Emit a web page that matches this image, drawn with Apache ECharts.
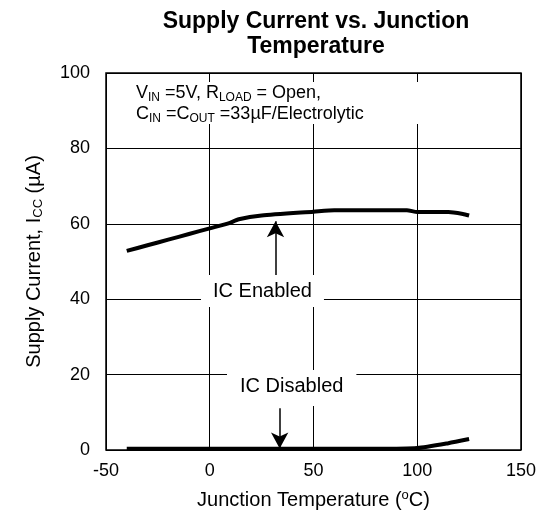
<!DOCTYPE html>
<html>
<head>
<meta charset="utf-8">
<script src="https://cdn.jsdelivr.net/npm/echarts@6/dist/echarts.min.js"></script>
<style>
  html, body { margin: 0; padding: 0; background: #fff; }
  #chart { width: 539px; height: 517px; }
</style>
</head>
<body>
<div id="chart"></div>
<script>
  // values
  var xTicks = [-50, 0, 50, 100, 150]
  var yTicks = [0, 20, 40, 60, 80, 100]
  var enabledTemp = [-40, -30, -20, -10, 0, 9, 14, 25, 50, 60, 95, 100, 115, 122, 125]
  var enabledCur = [52.8, 54.3, 55.8, 57.3, 58.8, 60.1, 61.2, 62.2, 63.2, 63.6, 63.6, 63.1, 63.1, 62.6, 62.2]
  var disabledTemp = [-40, 80, 100, 115, 125]
  var disabledCur = [0.3, 0.3, 0.5, 1.8, 2.9]
  // annotation arrows [x, yFrom, yTo]
  var enabledArrow = [31.7, 46.4, 60.7]
  var disabledArrow = [33.7, 11.1, 0.4]

  function pairs(xs, ys) {
    return xs.map(function (x, i) { return [x, ys[i]] })
  }

  var font = '"Liberation Sans", Arial, sans-serif'
  var chart = echarts.init(document.getElementById('chart'))

  chart.setOption({
    animation: false,
    textStyle: { fontFamily: font, color: '#000' },
    title: {
      text: 'Supply Current vs. Junction\nTemperature',
      left: 311,
      top: 4,
      textAlign: 'center',
      textStyle: { fontFamily: font, fontSize: 23, fontWeight: 'bold', lineHeight: 25, color: '#000' }
    },
    grid: {
      left: 106,
      right: 17,
      top: 73,
      bottom: 67,
      show: true,
      borderColor: '#000',
      borderWidth: 1.5
    },
    xAxis: {
      type: 'value',
      min: xTicks[0],
      max: xTicks[xTicks.length - 1],
      interval: 50,
      axisLine: { show: false },
      axisTick: { show: false },
      axisLabel: { fontSize: 18, color: '#000', margin: 12, fontFamily: font },
      splitLine: { lineStyle: { color: '#000', width: 1 } },
      name: 'Junction Temperature ({sup|o}C)',
      nameLocation: 'middle',
      nameGap: 39,
      nameTextStyle: {
        fontSize: 20, color: '#000', fontFamily: font,
        rich: { sup: { fontSize: 13, fontFamily: font, padding: [0, 0, 9, 0] } }
      }
    },
    yAxis: {
      type: 'value',
      min: yTicks[0],
      max: yTicks[yTicks.length - 1],
      interval: 20,
      axisLine: { show: false },
      axisTick: { show: false },
      axisLabel: { fontSize: 18, color: '#000', margin: 16, fontFamily: font },
      splitLine: { lineStyle: { color: '#000', width: 1 } },
      name: 'Supply Current, I{sub|CC} (µA)',
      nameLocation: 'middle',
      nameGap: 61,
      nameRotate: 90,
      nameTextStyle: {
        fontSize: 20, color: '#000', fontFamily: font,
        rich: { sub: { fontSize: 13, fontFamily: font, padding: [9, 0, 0, 0] } }
      }
    },
    graphic: [{
      // white panel behind the test conditions
      type: 'rect',
      left: 108,
      top: 82,
      z: 1,
      shape: { width: 330, height: 42 },
      style: { fill: '#fff' }
    }, {
      type: 'text',
      left: 136,
      top: 83,
      z: 2,
      style: {
        text: 'V{s|IN} =5V, R{s|LOAD} = Open,\nC{s|IN} =C{s|OUT} =33µF/Electrolytic',
        font: '18px ' + font,
        fill: '#000',
        lineHeight: 21,
        rich: { s: { fontSize: 12, fontFamily: font, padding: [9, 0, 0, 0] } }
      }
    }, {
      type: 'text',
      left: 201,
      top: 275,
      z: 1,
      style: {
        text: 'IC Enabled',
        font: '20px ' + font,
        fill: '#000',
        backgroundColor: '#fff',
        padding: [6, 12, 6, 12]
      }
    }, {
      type: 'text',
      left: 227,
      top: 370,
      z: 1,
      style: {
        text: 'IC Disabled',
        font: '20px ' + font,
        fill: '#000',
        backgroundColor: '#fff',
        padding: [6, 13, 10, 13]
      }
    }],
    series: [{
      name: 'IC Enabled',
      type: 'line',
      data: pairs(enabledTemp, enabledCur),
      showSymbol: false,
      smooth: 0.2,
      lineStyle: { color: '#000', width: 4 },
      markLine: {
        silent: true,
        symbol: ['none', 'arrow'],
        symbolSize: [13, 16],
        label: { show: false },
        lineStyle: { color: '#000', width: 1.5, type: 'solid' },
        data: [[
          { coord: [enabledArrow[0], enabledArrow[1]] },
          { coord: [enabledArrow[0], enabledArrow[2]] }
        ], [
          { coord: [disabledArrow[0], disabledArrow[1]] },
          { coord: [disabledArrow[0], disabledArrow[2]] }
        ]]
      }
    }, {
      name: 'IC Disabled',
      type: 'line',
      data: pairs(disabledTemp, disabledCur),
      showSymbol: false,
      smooth: 0.2,
      lineStyle: { color: '#000', width: 4 }
    }]
  })
</script>
</body>
</html>
